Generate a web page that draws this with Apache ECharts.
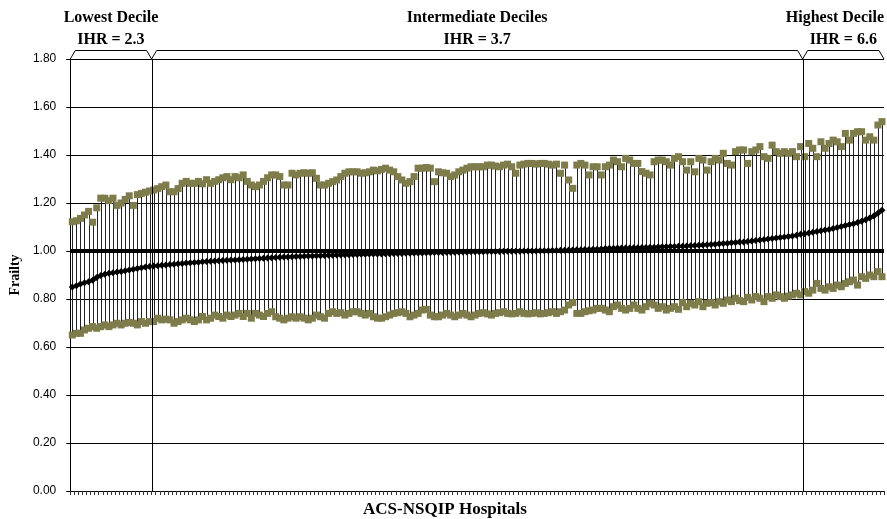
<!DOCTYPE html>
<html>
<head>
<meta charset="utf-8">
<script src="https://cdn.jsdelivr.net/npm/echarts@6/dist/echarts.min.js"></script>
<style>
    html, body { margin: 0; padding: 0; background: #fff; }
    #chart { width: 887px; height: 519px; }
</style>
</head>
<body>
<div id="chart"></div>
<script>
// upper confidence limit per hospital (sorted by frailty)
var upperCI = [
    1.122,1.126,1.136,1.15,1.165,1.12,1.18,1.22,1.22,1.21,
    1.22,1.19,1.20,1.215,1.23,1.19,1.235,1.24,1.245,1.25,
    1.254,1.26,1.268,1.275,1.247,1.247,1.26,1.282,1.29,1.282,
    1.282,1.29,1.28,1.297,1.282,1.29,1.297,1.305,1.31,1.297,
    1.31,1.305,1.317,1.29,1.275,1.268,1.275,1.29,1.305,1.317,
    1.317,1.31,1.275,1.275,1.324,1.317,1.324,1.326,1.324,1.326,
    1.303,1.275,1.275,1.282,1.289,1.296,1.31,1.324,1.33,1.33,
    1.33,1.324,1.326,1.33,1.337,1.334,1.34,1.345,1.337,1.33,
    1.31,1.296,1.282,1.289,1.31,1.345,1.345,1.348,1.345,1.289,
    1.33,1.326,1.324,1.31,1.317,1.33,1.337,1.345,1.351,1.351,
    1.351,1.351,1.358,1.358,1.354,1.351,1.358,1.362,1.351,1.324,
    1.358,1.362,1.365,1.365,1.362,1.365,1.365,1.362,1.358,1.362,
    1.324,1.358,1.296,1.261,1.358,1.365,1.358,1.317,1.351,1.351,
    1.317,1.351,1.358,1.379,1.372,1.351,1.386,1.379,1.365,1.365,
    1.331,1.324,1.317,1.372,1.379,1.379,1.372,1.358,1.386,1.393,
    1.372,1.337,1.372,1.33,1.386,1.379,1.337,1.372,1.386,1.379,
    1.407,1.365,1.358,1.414,1.421,1.421,1.365,1.414,1.421,1.435,
    1.393,1.386,1.441,1.414,1.407,1.414,1.407,1.414,1.393,1.435,
    1.393,1.448,1.428,1.393,1.455,1.428,1.448,1.462,1.455,1.435,
    1.49,1.462,1.49,1.497,1.497,1.462,1.476,1.462,1.525,1.539
];
// hospital frailty estimate
var frailty = [
    0.850,0.855,0.862,0.868,0.872,0.878,0.890,0.898,0.903,0.907,
    0.909,0.912,0.915,0.918,0.921,0.924,0.927,0.930,0.933,0.935,
    0.937,0.939,0.941,0.942,0.944,0.945,0.947,0.948,0.950,0.951,
    0.952,0.953,0.955,0.956,0.957,0.958,0.959,0.960,0.961,0.962,
    0.963,0.964,0.965,0.966,0.967,0.968,0.969,0.970,0.971,0.972,
    0.973,0.974,0.975,0.975,0.976,0.977,0.977,0.978,0.979,0.979,
    0.980,0.980,0.981,0.982,0.982,0.983,0.983,0.984,0.984,0.985,
    0.985,0.986,0.986,0.987,0.987,0.988,0.988,0.989,0.989,0.990,
    0.990,0.990,0.991,0.991,0.992,0.992,0.992,0.993,0.993,0.994,
    0.994,0.994,0.995,0.995,0.995,0.996,0.996,0.996,0.997,0.997,
    0.997,0.997,0.998,0.998,0.998,0.998,0.999,0.999,0.999,0.999,
    0.999,1.000,1.000,1.000,1.000,1.001,1.001,1.001,1.002,1.002,
    1.003,1.003,1.004,1.004,1.005,1.005,1.006,1.006,1.007,1.007,
    1.008,1.010,1.011,1.011,1.012,1.012,1.013,1.013,1.014,1.014,
    1.015,1.015,1.016,1.016,1.017,1.018,1.018,1.019,1.019,1.020,
    1.020,1.021,1.022,1.023,1.024,1.025,1.026,1.027,1.028,1.030,
    1.031,1.032,1.034,1.035,1.037,1.038,1.040,1.042,1.044,1.046,
    1.048,1.050,1.052,1.054,1.056,1.058,1.060,1.063,1.066,1.070,
    1.072,1.075,1.078,1.081,1.084,1.087,1.090,1.094,1.098,1.102,
    1.106,1.110,1.114,1.119,1.124,1.130,1.137,1.146,1.157,1.170
];
// lower confidence limit
var lowerCI = [
    0.65,0.657,0.657,0.671,0.678,0.685,0.678,0.685,0.692,0.685,
    0.692,0.699,0.692,0.699,0.702,0.699,0.692,0.706,0.699,0.706,
    0.706,0.72,0.713,0.716,0.713,0.699,0.706,0.713,0.72,0.713,
    0.706,0.713,0.727,0.713,0.72,0.733,0.727,0.72,0.733,0.727,
    0.733,0.74,0.727,0.74,0.72,0.74,0.733,0.727,0.74,0.747,
    0.726,0.72,0.713,0.72,0.726,0.72,0.726,0.72,0.713,0.72,
    0.733,0.726,0.72,0.74,0.747,0.74,0.743,0.733,0.74,0.747,
    0.747,0.74,0.733,0.74,0.726,0.72,0.72,0.726,0.733,0.74,
    0.743,0.747,0.74,0.726,0.733,0.74,0.754,0.757,0.733,0.726,
    0.726,0.733,0.74,0.733,0.726,0.733,0.74,0.733,0.726,0.733,
    0.74,0.743,0.738,0.733,0.74,0.743,0.747,0.74,0.738,0.74,
    0.747,0.74,0.738,0.74,0.743,0.738,0.74,0.743,0.747,0.74,
    0.747,0.754,0.775,0.785,0.74,0.74,0.747,0.751,0.754,0.761,
    0.761,0.754,0.747,0.768,0.775,0.761,0.754,0.761,0.775,0.761,
    0.754,0.768,0.782,0.775,0.761,0.768,0.754,0.761,0.768,0.757,
    0.785,0.768,0.782,0.775,0.789,0.768,0.782,0.785,0.775,0.789,
    0.782,0.796,0.789,0.803,0.793,0.789,0.807,0.796,0.81,0.803,
    0.789,0.81,0.803,0.817,0.81,0.803,0.812,0.817,0.824,0.817,
    0.831,0.824,0.837,0.865,0.844,0.837,0.851,0.844,0.858,0.851,
    0.865,0.872,0.879,0.858,0.893,0.886,0.9,0.893,0.914,0.893
];
var hospitals = [];
for (var h = 1; h <= upperCI.length; h++) { hospitals.push('Hospital ' + h); }

var referenceValue = 1.0;
var decileBounds = [0, 20, 180, 200];
var decileNames = ['Lowest Decile', 'Intermediate Deciles', 'Highest Decile'];
var decileIHR = ['IHR = 2.3', 'IHR = 3.7', 'IHR = 6.6'];

var serif = '"Liberation Serif", "Times New Roman", serif';
var olive = '#7f7c4b';

var chart = echarts.init(document.getElementById('chart'));

var rangeData = [];
for (var i = 0; i < hospitals.length; i++) {
    rangeData.push([i, lowerCI[i], upperCI[i]]);
}

var option = {
    animation: false,
    grid: { left: 68, right: 3, top: 59, bottom: 28 },
    xAxis: {
        type: 'category',
        data: hospitals,
        boundaryGap: true,
        axisLine: { lineStyle: { color: '#000', width: 1 } },
        axisTick: { show: true, interval: 0, length: 4, lineStyle: { color: '#333' } },
        axisLabel: { show: false },
        splitLine: { show: false }
    },
    yAxis: {
        type: 'value',
        min: 0,
        max: 1.8,
        interval: 0.2,
        axisLine: { show: true, lineStyle: { color: '#000', width: 1 } },
        axisTick: { show: true, length: 4, lineStyle: { color: '#000' } },
        axisLabel: {
            margin: 14,
            color: '#000',
            fontFamily: 'Arial, "Liberation Sans", sans-serif',
            fontSize: 12,
            formatter: function (v) { return v.toFixed(2); }
        },
        splitLine: { show: true, lineStyle: { color: '#000', width: 1 } },
        name: 'Frailty',
        nameLocation: 'middle',
        nameRotate: 90,
        nameGap: 46,
        nameTextStyle: { fontFamily: serif, fontWeight: 'bold', fontSize: 14, color: '#000' }
    },
    series: [
        {
            // high-low lines
            type: 'custom',
            data: rangeData,
            encode: { x: 0, y: [1, 2] },
            z: 1,
            renderItem: function (params, api) {
                var lo = api.coord([api.value(0), api.value(1)]);
                var hi = api.coord([api.value(0), api.value(2)]);
                var x = Math.round(lo[0]) + 0.5;
                return {
                    type: 'line',
                    shape: { x1: x, y1: lo[1], x2: x, y2: hi[1] },
                    style: { stroke: '#222', lineWidth: 1 }
                };
            }
        },
        {
            name: 'Frailty',
            type: 'line',
            data: frailty,
            z: 4,
            symbol: 'diamond',
            symbolSize: 7,
            showSymbol: true,
            showAllSymbol: true,
            itemStyle: { color: '#000' },
            lineStyle: { color: '#000', width: 2 },
            markLine: {
                silent: true,
                symbol: 'none',
                label: { show: false },
                lineStyle: { color: '#000', width: 4, type: 'solid' },
                data: [{ yAxis: referenceValue }]
            }
        },
        {
            name: 'Upper',
            type: 'scatter',
            data: upperCI,
            z: 3,
            symbol: 'rect',
            symbolSize: 7,
            itemStyle: { color: olive, opacity: 1 }
        },
        {
            name: 'Lower',
            type: 'scatter',
            data: lowerCI,
            z: 3,
            symbol: 'rect',
            symbolSize: 7,
            itemStyle: { color: olive, opacity: 1 }
        }
    ]
};
chart.setOption(option);

// decile separators and brackets above the plot
var x0 = chart.convertToPixel({ xAxisIndex: 0 }, 0);
var step = chart.convertToPixel({ xAxisIndex: 0 }, 1) - x0;
function boundaryX(k) { return x0 - step / 2 + k * step; }
var topY = chart.convertToPixel({ yAxisIndex: 0 }, 1.8);
var botY = chart.convertToPixel({ yAxisIndex: 0 }, 0);
var chartW = chart.getWidth();

var graphics = [];
for (var d = 0; d < decileNames.length; d++) {
    var xa = boundaryX(decileBounds[d]);
    var xb = boundaryX(decileBounds[d + 1]);
    var xm = (xa + xb) / 2;
    if (d > 0) {
        var xs = Math.round(xa) + 0.5;
        graphics.push({
            type: 'line', z: 10,
            shape: { x1: xs, y1: topY, x2: xs, y2: botY },
            style: { stroke: '#000', lineWidth: 1 }
        });
    }
    graphics.push({
        type: 'polyline', z: 10,
        shape: { points: [[xa, topY], [xa + 5, topY - 8.5], [xb - 5, topY - 8.5], [xb, topY]] },
        style: { stroke: '#000', lineWidth: 1, fill: null }
    });
    var font = 'bold 16px ' + serif;
    [[decileNames[d], 18], [decileIHR[d], 40]].forEach(function (t) {
        // keep the label inside the canvas (the last one hugs the right edge)
        var w = echarts.format.getTextRect ? echarts.format.getTextRect(t[0], font).width : 0;
        var cx = Math.min(xm, chartW - 3 - w / 2);
        graphics.push({
            type: 'text', z: 10, x: cx, y: t[1],
            style: { text: t[0], font: font, fill: '#000', align: 'center', verticalAlign: 'middle' }
        });
    });
}
// x axis title sits a little left of the plot centre in the original
graphics.push({
    type: 'text', z: 10, x: 445, y: 510,
    style: { text: 'ACS-NSQIP Hospitals', font: 'bold 17px ' + serif, fill: '#000', align: 'center', verticalAlign: 'middle' }
});
chart.setOption({ graphic: graphics });
</script>
</body>
</html>
